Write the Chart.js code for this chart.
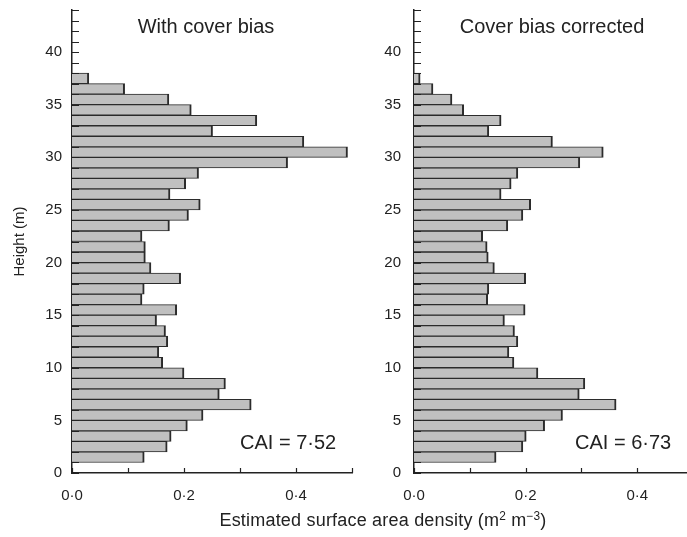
<!DOCTYPE html>
<html>
<head>
<meta charset="utf-8">
<script src="https://cdn.jsdelivr.net/npm/chart.js@4/dist/chart.umd.min.js"></script>
<style>
  html, body { margin:0; padding:0; background:#fff; overflow:hidden; width:687px; height:537px; }
  #wrapL { position:absolute; left:0; top:0; width:360px; height:537px; }
  #wrapR { position:absolute; left:360px; top:0; width:327px; height:537px; }
  #xtitle { position:absolute; left:133px; width:500px; top:510px; text-align:center; letter-spacing:0.2px;
            font:18px 'Liberation Sans', Arial, Helvetica, sans-serif; color:#222; white-space:nowrap; }
  #xtitle sup { font-size:0.66em; position:relative; top:-0.5em; vertical-align:baseline; }
</style>
</head>
<body>
<div id="wrapL"><canvas id="cL" width="360" height="537"></canvas></div>
<div id="wrapR"><canvas id="cR" width="327" height="537"></canvas></div>
<div id="xtitle">Estimated surface area density (m<sup>2</sup> m<sup>−3</sup>)</div>
<script>
// ---- data (height bins in m, bottom of each 1 m layer) ----
const heightBins = [1,2,3,4,5,6,7,8,9,10,11,12,13,14,15,16,17,18,19,20,21,22,23,24,25,26,27,28,29,30,31,32,33,34,35,36,37];
const withCoverBias = [0.129,0.170,0.177,0.206,0.234,0.320,0.263,0.274,0.200,0.162,
                       0.155,0.171,0.167,0.151,0.187,0.125,0.129,0.194,0.141,0.131,
                       0.131,0.125,0.174,0.208,0.229,0.175,0.203,0.226,0.385,0.492,
                       0.414,0.251,0.330,0.213,0.173,0.094,0.030];
const coverBiasCorrected = [0.147,0.195,0.201,0.234,0.266,0.362,0.296,0.306,0.222,0.179,
                            0.170,0.186,0.180,0.162,0.199,0.132,0.134,0.200,0.144,0.133,
                            0.131,0.123,0.168,0.195,0.209,0.156,0.174,0.186,0.297,0.339,
                            0.248,0.134,0.156,0.089,0.068,0.034,0.011];
const panelTitles = ['With cover bias', 'Cover bias corrected'];
const caiLabels = ['CAI = 7·52', 'CAI = 6·73'];
const yTickLabels = [0,5,10,15,20,25,30,35,40];
const xTickValues = [0.0,0.2,0.4];
const xTickLabels = ['0·0','0·2','0·4'];
const xMinorTicks = [0.0,0.1,0.2,0.3,0.4,0.5];

const FONT = "'Liberation Sans', Arial, Helvetica, sans-serif";
const TXT = '#222';

const decorPlugin = {
  id: 'decor',
  afterDraw(chart, args, o) {
    const ctx = chart.ctx, xs = chart.scales.x, ys = chart.scales.y, a = chart.chartArea;
    ctx.save();
    ctx.strokeStyle = '#222';
    ctx.lineWidth = 1.2;
    ctx.beginPath();
    for (let v = ys.min; v <= ys.max; v++) {
      const p = Math.round(ys.getPixelForValue(v)) + 0.5;
      ctx.moveTo(a.left, p); ctx.lineTo(a.left + 7, p);
    }
    for (const v of xMinorTicks) {
      if (v > xs.max + 1e-9) continue;
      const p = Math.round(xs.getPixelForValue(v)) + 0.5;
      ctx.moveTo(p, a.bottom); ctx.lineTo(p, a.bottom - 5);
    }
    ctx.stroke();
    ctx.fillStyle = TXT;
    ctx.font = '20px ' + FONT;
    ctx.textBaseline = 'middle';
    ctx.textAlign = 'center';
    ctx.fillText(o.title, a.left + o.titleDx, a.top + 17);
    ctx.textAlign = 'left';
    ctx.fillText(o.cai, a.left + o.caiDx, a.bottom - 30);
    ctx.restore();
  }
};

function makePanel(id, values, cfg) {
  return new Chart(document.getElementById(id), {
    type: 'bar',
    data: {
      datasets: [{
        data: heightBins.map((h, i) => ({ x: values[i], y: h + 0.5 })),
        backgroundColor: '#c0c0c0',
        borderColor: '#2b2b2b',
        borderWidth: { top: 1, bottom: 1, right: 2, left: 0 },
        borderSkipped: false,
        barPercentage: 1,
        categoryPercentage: 1
      }]
    },
    plugins: [decorPlugin],
    options: {
      indexAxis: 'y',
      responsive: false,
      animation: false,
      layout: { autoPadding: false, padding: { top: 10, right: cfg.padRight, left: 0, bottom: 0 } },
      plugins: {
        legend: { display: false },
        tooltip: { enabled: false },
        decor: { title: cfg.title, cai: cfg.cai, titleDx: cfg.titleDx, caiDx: cfg.caiDx }
      },
      scales: {
        x: {
          type: 'linear', min: 0, max: cfg.xMax, z: 1, offset: false,
          ticks: {
            stepSize: 0.1, includeBounds: false, autoSkip: false, maxRotation: 0,
            padding: 14, color: TXT, font: { size: 15, family: FONT },
            callback: (v) => {
              const k = xTickValues.findIndex(t => Math.abs(t - v) < 1e-9);
              return k >= 0 ? xTickLabels[k] : null;
            }
          },
          grid: { display: false, drawTicks: false, offset: false },
          border: { display: true, color: '#222', width: 1.5 },
          afterFit: (s) => { s.height = 64; s.paddingLeft = 0; s.paddingRight = 0; }
        },
        y: {
          type: 'linear', min: 0, max: 44, z: 1, offset: false,
          ticks: {
            stepSize: 5, includeBounds: false, padding: cfg.yPad, color: TXT,
            font: { size: 15, family: FONT },
            callback: (v) => yTickLabels.includes(v) ? String(v) : null
          },
          grid: { display: false, drawTicks: false, offset: false },
          border: { display: true, color: '#222', width: 1.5 },
          title: { display: cfg.showYTitle, text: 'Height (m)', color: TXT,
                   font: { size: 15, family: FONT }, padding: { top: 11, bottom: 0 } },
          afterFit: (s) => { s.width = cfg.yWidth; s.paddingTop = 0; s.paddingBottom = 0; }
        }
      }
    }
  });
}

makePanel('cL', withCoverBias, {
  title: panelTitles[0], cai: caiLabels[0], titleDx: 134, caiDx: 168,
  xMax: 0.5, padRight: 8, yWidth: 72, yPad: 10, showYTitle: true
});
makePanel('cR', coverBiasCorrected, {
  title: panelTitles[1], cai: caiLabels[1], titleDx: 138, caiDx: 161,
  xMax: 0.489, padRight: 0, yWidth: 54, yPad: 13, showYTitle: false
});
</script>
</body>
</html>
